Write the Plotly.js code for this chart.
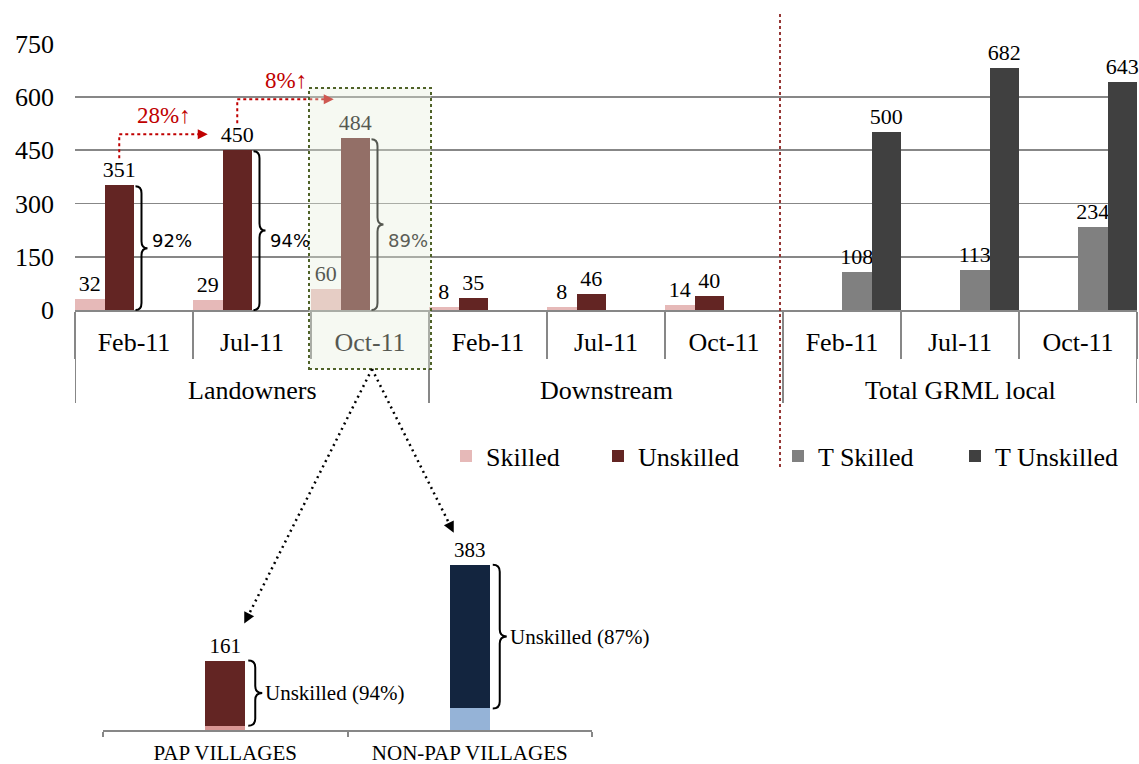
<!DOCTYPE html>
<html>
<head>
<meta charset="utf-8">
<script src="https://cdn.plot.ly/plotly-3.0.1.min.js"></script>
<style>html,body{margin:0;padding:0;background:#fff}</style>
</head>
<body>
<div id="chart" style="width:1139px;height:764px"></div>
<script>
// Local workforce, skilled vs unskilled, by survey round
const groups = ['Landowners', 'Downstream', 'Total GRML local'];
const months = ['Feb-11', 'Jul-11', 'Oct-11', 'Feb-11', 'Jul-11', 'Oct-11', 'Feb-11', 'Jul-11', 'Oct-11'];
const skilled    = [32, 29, 60, 8, 8, 14, null, null, null];
const unskilled  = [351, 450, 484, 35, 46, 40, null, null, null];
const tSkilled   = [null, null, null, null, null, null, 108, 113, 234];
const tUnskilled = [null, null, null, null, null, null, 500, 682, 643];
const yTicks = [0, 150, 300, 450, 600, 750];

// Oct-11 landowners broken down by village type
const villages = ['PAP VILLAGES', 'NON-PAP VILLAGES'];
const villageSkilled   = [10, 50];
const villageUnskilled = [151, 333];

const SERIF = 'Liberation Serif, Times New Roman, serif';
const SANS = 'DejaVu Sans, sans-serif';
const GRID = '#878787';

// page geometry (pixels) and helpers to move between pixels and paper fractions
const W = 1139, H = 764;
const MAIN = {l: 75, r: 1137, b: 310, t: 43.7, ymax: 750};
const INSET = {l: 103, r: 592, b: 730, ymax: 400, ppu: 0.4316};
INSET.t = INSET.b - INSET.ymax * INSET.ppu;
const fx = p => p / W;
const fy = p => 1 - p / H;
const P = (x, y) => fx(x).toFixed(5) + ',' + fy(y).toFixed(5);

const slot = (MAIN.r - MAIN.l) / months.length;
const xPix = v => MAIN.l + (v + 0.5) * slot;
const yPix = v => MAIN.b - v * (MAIN.b - MAIN.t) / MAIN.ymax;
const islot = (INSET.r - INSET.l) / villages.length;
const ixPix = v => INSET.l + (v + 0.5) * islot;
const iyPix = v => INSET.b - v * INSET.ppu;
const BAR = 0.25;                       // four series share each slot
const seriesCenter = (i, k) => i + (k - 1.5) * BAR;
const VBAR = 0.1636;                    // village bar width, category units

function bracePath(x0, yTop, yBot, w) {
  const xm = x0 + w / 2, xt = x0 + w, ym = (yTop + yBot) / 2;
  const c = Math.min(7, (yBot - yTop) / 4);
  return `M${P(x0, yTop)} Q${P(xm, yTop)} ${P(xm, yTop + c)} L${P(xm, ym - c)} ` +
         `Q${P(xm, ym)} ${P(xt, ym)} Q${P(xm, ym)} ${P(xm, ym + c)} ` +
         `L${P(xm, yBot - c)} Q${P(xm, yBot)} ${P(x0, yBot)}`;
}
function headPath(tx, ty, fromX, fromY, len, half) {
  const dx = tx - fromX, dy = ty - fromY, d = Math.hypot(dx, dy);
  const ux = dx / d, uy = dy / d;
  const bx = tx - ux * len, by = ty - uy * len;
  const nx = -uy * half, ny = ux * half;
  return `M${P(tx, ty)} L${P(bx + nx, by + ny)} L${P(bx - nx, by - ny)} Z`;
}

const xs = months.map((_, i) => i);
function mainBar(name, vals, color, lw) {
  return {
    type: 'bar', name: name, x: xs, y: vals,
    marker: {color: color, line: {width: 0}},
    texttemplate: '%{y}', textposition: 'outside', cliponaxis: false, constraintext: 'none',
    textfont: {family: SERIF, size: 22, color: '#000'},
    legendwidth: lw, hoverinfo: 'skip'
  };
}

const traces = [
  mainBar('Skilled', skilled, '#e6b9b8', 107),
  mainBar('Unskilled', unskilled, '#632523', 135),
  mainBar('T Skilled', tSkilled, '#808080', 132),
  mainBar('T Unskilled', tUnskilled, '#404040', 120),
  {
    type: 'bar', x: villages, y: villageSkilled, xaxis: 'x2', yaxis: 'y2',
    width: VBAR, offsetgroup: 'v', showlegend: false, hoverinfo: 'skip',
    marker: {color: ['#d99694', '#95b3d7'], line: {width: 0}}
  },
  {
    type: 'bar', x: villages, y: villageUnskilled, base: villageSkilled, xaxis: 'x2', yaxis: 'y2',
    width: VBAR, offsetgroup: 'v', showlegend: false, hoverinfo: 'skip',
    marker: {color: ['#632523', '#13253f'], line: {width: 0}},
    text: villageSkilled.map((s, i) => String(s + villageUnskilled[i])),
    textposition: 'outside', cliponaxis: false, constraintext: 'none',
    textfont: {family: SERIF, size: 21, color: '#000'}
  }
];

const shapes = [];
const annotations = [];

// group dividers under the category axis
[-0.5, 2.5, 5.5, 8.5].forEach(b => shapes.push({
  type: 'line', xref: 'x', yref: 'paper', x0: b, x1: b, y0: fy(MAIN.b), y1: fy(403),
  line: {color: GRID, width: 2}, layer: 'above'
}));
groups.forEach((g, gi) => annotations.push({
  text: g, xref: 'x', yref: 'paper', x: gi * 3 + 1, y: fy(390), showarrow: false,
  xanchor: 'center', yanchor: 'middle', font: {family: SERIF, size: 26, color: '#000'}
}));

// braces and unskilled shares for the landowner rounds
const PCT_Y = 240;
[0, 1, 2].forEach(i => {
  const x0 = xPix(i) + 1.5;
  const share = Math.round(unskilled[i] / (unskilled[i] + skilled[i]) * 100);
  shapes.push({type: 'path', xref: 'paper', yref: 'paper', layer: 'above',
    path: bracePath(x0, yPix(unskilled[i]) + 1, yPix(0), 12),
    line: {color: '#000', width: 2}});
  annotations.push({
    text: share + '%', xref: 'paper', yref: 'paper', x: fx(x0 + 14), y: fy(PCT_Y),
    xanchor: 'left', yanchor: 'middle', showarrow: false,
    font: {family: SANS, size: 18, color: i === 2 ? '#5c5e57' : '#000'}
  });
});

// round-on-round growth arrows
const RED = '#c00000';
[0, 1].forEach(i => {
  const sx = xPix(seriesCenter(i, 1));
  const sy = yPix(unskilled[i]) - 27;
  const ey = sy - 24;
  const tx = xPix(seriesCenter(i + 1, 0)) + (i === 0 ? 0 : 8);
  const growth = Math.round((unskilled[i + 1] / unskilled[i] - 1) * 100);
  shapes.push({type: 'path', xref: 'paper', yref: 'paper', layer: 'above',
    path: `M${P(sx, sy)} L${P(sx, ey)} L${P(tx - 8, ey)}`,
    line: {color: RED, width: 2, dash: 'dot'}});
  shapes.push({type: 'path', xref: 'paper', yref: 'paper', layer: 'above',
    path: headPath(tx, ey, sx, ey, 10, 5), fillcolor: RED, line: {width: 0}});
  annotations.push({
    text: growth + '%\u2191', xref: 'paper', yref: 'paper', x: fx((sx + tx) / 2), y: fy(ey - 4),
    xanchor: 'center', yanchor: 'bottom', showarrow: false,
    font: {family: SERIF, size: 23, color: RED}
  });
});

// separator between the local groups and the GRML totals
shapes.push({type: 'line', xref: 'paper', yref: 'paper', layer: 'above',
  x0: fx(780), x1: fx(780), y0: fy(14), y1: fy(467),
  line: {color: '#953735', width: 2, dash: 'dot'}});

// highlight over the Oct-11 landowner round
const boxL = xPix(1.5) - 2, boxR = xPix(2.5) + 2, boxT = 88, boxB = 369;
shapes.push({type: 'rect', xref: 'paper', yref: 'paper', layer: 'above',
  x0: fx(boxL), x1: fx(boxR), y0: fy(boxB), y1: fy(boxT),
  fillcolor: 'rgba(231,238,220,0.37)', line: {color: '#4f6228', width: 2, dash: 'dot'}});

// zoom-out arrows from the highlight to the village breakdown
const apexX = (boxL + boxR) / 2 + 2, apexY = boxB;
[[ixPix(0) + 19, iyPix(villageSkilled[0] + villageUnskilled[0]) - 37],
 [ixPix(1) - 16, iyPix(villageSkilled[1] + villageUnskilled[1]) - 32]].forEach(([tx, ty]) => {
  const d = Math.hypot(tx - apexX, ty - apexY);
  const ex = tx - (tx - apexX) / d * 9, ey = ty - (ty - apexY) / d * 9;
  shapes.push({type: 'line', xref: 'paper', yref: 'paper', layer: 'above',
    x0: fx(apexX), y0: fy(apexY), x1: fx(ex), y1: fy(ey),
    line: {color: '#000', width: 2.5, dash: '2px,4px'}});
  shapes.push({type: 'path', xref: 'paper', yref: 'paper', layer: 'above',
    path: headPath(tx, ty, apexX, apexY, 11, 5.5), fillcolor: '#000', line: {width: 0}});
});

// braces for the village breakdown
villages.forEach((v, i) => {
  const x0 = ixPix(i) + islot * VBAR / 2 + 3;
  const share = Math.round(villageUnskilled[i] / (villageUnskilled[i] + villageSkilled[i]) * 100);
  const yTop = iyPix(villageSkilled[i] + villageUnskilled[i]);
  const yBot = iyPix(villageSkilled[i]);
  shapes.push({type: 'path', xref: 'paper', yref: 'paper', layer: 'above',
    path: bracePath(x0, yTop, yBot, 14), line: {color: '#000', width: 2}});
  annotations.push({
    text: 'Unskilled (' + share + '%)', xref: 'paper', yref: 'paper',
    x: fx(x0 + 15), y: fy((yTop + yBot) / 2), xanchor: 'left', yanchor: 'middle', showarrow: false,
    font: {family: SERIF, size: 21, color: '#000'}
  });
});

const layout = {
  width: W, height: H,
  margin: {l: 0, r: 0, t: 0, b: 0},
  paper_bgcolor: '#fff', plot_bgcolor: 'rgba(0,0,0,0)',
  barmode: 'group', bargap: 0, bargroupgap: 0,
  showlegend: true, hovermode: false,
  font: {family: SERIF, color: '#000'},
  xaxis: {
    domain: [fx(MAIN.l), fx(MAIN.r)], range: [-0.5, months.length - 0.5],
    tickmode: 'array', tickvals: xs, ticktext: months, ticks: '',
    tickfont: {family: SERIF, size: 26, color: '#000'}, ticklabelstandoff: 8,
    showline: true, linecolor: GRID, linewidth: 2, showgrid: false, zeroline: false,
    minor: {tick0: -0.5, dtick: 1, ticks: 'outside', ticklen: 47, tickcolor: GRID, tickwidth: 2, showgrid: false}
  },
  yaxis: {
    domain: [fy(MAIN.b), fy(MAIN.t)], range: [0, MAIN.ymax],
    tickmode: 'array', tickvals: yTicks, ticks: '',
    tickfont: {family: SERIF, size: 26, color: '#000'}, ticklabelstandoff: 20,
    showgrid: true, gridcolor: GRID, gridwidth: 1.6, zeroline: false, showline: false
  },
  xaxis2: {
    anchor: 'y2', domain: [fx(INSET.l), fx(INSET.r)], type: 'category', range: [-0.5, 1.5],
    tickson: 'boundaries', ticks: 'outside', ticklen: 5, tickcolor: GRID, tickwidth: 2,
    showline: true, linecolor: GRID, linewidth: 2, showgrid: false,
    tickfont: {family: SERIF, size: 21, color: '#000'}, ticklabelstandoff: 3
  },
  yaxis2: {
    anchor: 'x2', domain: [fy(INSET.b), fy(INSET.t)], range: [0, INSET.ymax],
    visible: false, showgrid: false, zeroline: false
  },
  legend: {
    orientation: 'h', x: fx(446), xanchor: 'left', y: fy(456), yanchor: 'middle',
    font: {family: SERIF, size: 26, color: '#000'}, bgcolor: 'rgba(0,0,0,0)',
    itemwidth: 30, traceorder: 'normal'
  },
  shapes: shapes,
  annotations: annotations
};

Plotly.newPlot('chart', traces, layout, {displayModeBar: false, staticPlot: true});
</script>
</body>
</html>
